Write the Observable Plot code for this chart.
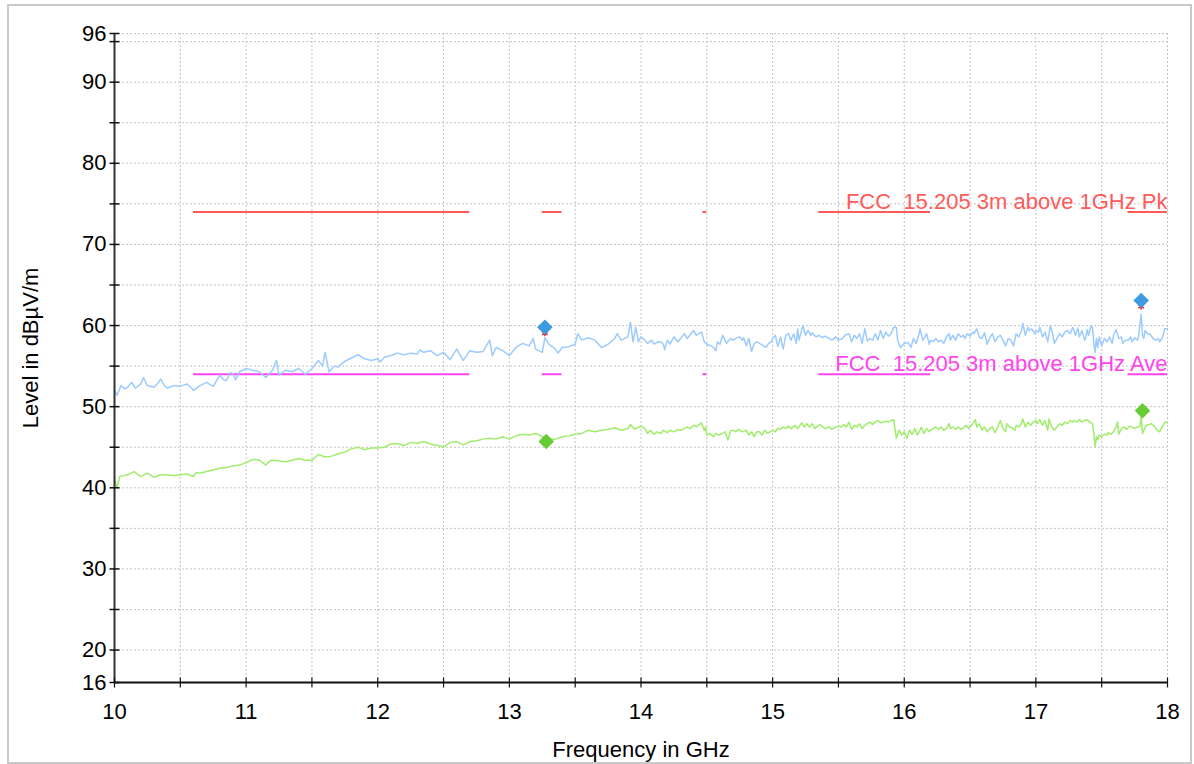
<!DOCTYPE html>
<html>
<head>
<meta charset="utf-8">
<script src="https://cdn.jsdelivr.net/npm/d3@7"></script>
<script src="https://cdn.jsdelivr.net/npm/@observablehq/plot@0.6"></script>
<style>
  html, body { margin: 0; padding: 0; background: #fff; }
  #wrap { position: relative; width: 1194px; height: 764px; overflow: hidden; }
  #frame { position: absolute; left: 7px; top: 4px; width: 1181px; height: 756px; border: 2px solid #c8c8c8; pointer-events: none; }
  #cut { position: absolute; left: 0; top: 762px; width: 1194px; height: 2px; background: #fff; }
</style>
</head>
<body>
<div id="wrap"><div id="chart"></div><div id="cut"></div><div id="frame"></div></div>
<script>
// ---- Data ----
const peakF = [10.00,10.02,10.05,10.08,10.10,10.13,10.16,10.20,10.22,10.25,10.30,10.33,10.35,10.38,10.40,10.45,10.50,10.55,10.58,10.60,10.65,10.70,10.75,10.80,10.83,10.85,10.88,10.90,10.92,10.95,11.00,11.05,11.10,11.15,11.20,11.23,11.25,11.30,11.35,11.40,11.45,11.50,11.53,11.55,11.58,11.60,11.63,11.67,11.70,11.75,11.80,11.85,11.90,11.95,12.00,
12.02,12.05,12.10,12.15,12.20,12.25,12.30,12.32,12.35,12.40,12.45,12.50,12.55,12.60,12.65,12.70,12.75,12.80,12.85,12.87,12.90,12.95,13.00,13.05,13.10,13.15,13.18,13.20,13.25,13.27,13.30,13.35,13.37,13.40,13.45,13.50,13.52,13.55,13.60,13.65,13.70,13.75,13.80,13.82,13.85,13.90,13.92,13.94,13.96,13.98,14.00,
14.03,14.05,14.08,14.10,14.13,14.15,14.17,14.18,14.20,14.22,14.25,14.28,14.30,14.33,14.35,14.38,14.40,14.42,14.44,14.46,14.48,14.50,14.53,14.55,14.57,14.58,14.60,14.62,14.65,14.68,14.70,14.73,14.75,14.77,14.78,14.80,14.82,14.84,14.86,14.88,14.90,14.93,14.95,14.97,14.99,15.00,15.02,15.04,15.06,15.08,15.10,15.12,15.14,15.16,15.18,15.19,15.20,15.22,15.23,15.25,15.27,15.29,15.30,15.33,15.35,15.38,15.40,15.43,15.45,15.48,15.50,15.53,15.55,15.58,15.60,15.62,15.64,15.66,15.68,15.70,15.72,15.74,15.76,15.78,15.80,15.82,15.84,15.86,15.88,15.90,15.92,15.94,15.95,15.97,16.00,
16.03,16.05,16.07,16.09,16.11,16.12,16.14,16.15,16.17,16.19,16.20,16.22,16.24,16.26,16.28,16.30,16.32,16.34,16.35,16.37,16.39,16.41,16.43,16.45,16.46,16.48,16.50,16.52,16.53,16.55,16.57,16.59,16.61,16.63,16.65,16.67,16.69,16.71,16.73,16.75,16.77,16.79,16.81,16.83,16.85,16.87,16.88,16.89,16.90,16.92,16.94,16.95,16.97,16.99,17.00,17.02,17.03,17.05,17.07,17.09,17.11,17.13,17.14,17.16,17.18,17.20,17.22,17.24,17.26,17.28,17.30,17.32,17.33,17.35,17.37,17.38,17.39,17.40,17.42,17.43,17.44,17.45,17.46,17.47,17.48,17.50,17.52,17.54,17.56,17.58,17.59,17.61,17.63,17.65,17.66,17.68,17.70,17.72,17.73,17.75,17.77,17.78,17.80,17.81,17.82,17.83,17.85,17.87,17.89,17.91,17.93,17.94,17.96,17.98,18.00];
const peakL = [52.0,51.4,52.6,52.2,52.4,53.0,52.3,52.8,53.6,52.6,52.4,52.9,53.4,52.6,52.3,52.6,52.5,52.8,52.4,52.0,52.6,53.0,52.5,53.9,53.3,53.2,54.2,54.1,53.3,54.3,54.7,54.5,54.3,53.6,54.5,55.7,53.9,54.5,54.3,54.7,54.0,54.7,55.3,55.7,55.0,56.7,54.3,55.0,54.9,55.6,56.0,56.4,55.9,55.7,55.9,
55.5,56.1,56.3,56.6,56.4,56.6,56.5,57.0,56.7,56.9,56.3,56.7,55.8,57.1,55.7,56.9,56.7,56.8,58.2,56.3,57.3,56.9,56.3,57.3,57.8,57.5,58.4,57.1,56.7,58.5,57.7,57.1,56.6,57.3,57.4,57.7,59.0,58.2,58.5,58.2,57.3,57.7,58.4,59.0,58.2,58.6,60.4,58.0,59.8,58.0,58.6,
58.2,57.8,58.2,57.7,58.0,58.0,57.7,57.0,58.2,57.7,58.6,58.0,58.4,59.0,58.4,59.0,59.4,58.8,59.0,59.2,58.0,57.7,57.5,57.3,56.9,58.0,57.7,58.8,57.8,58.4,58.2,58.5,58.6,58.2,58.5,57.5,58.4,56.8,57.8,58.0,57.8,57.5,57.3,57.8,58.0,58.4,58.8,57.4,58.6,57.1,58.8,59.0,58.2,59.0,57.8,59.6,58.2,59.4,60.0,58.8,59.4,58.8,59.1,58.6,58.8,58.5,58.7,58.4,58.2,58.6,58.2,58.4,58.8,59.0,58.0,58.8,58.4,59.0,57.8,59.6,58.1,58.4,58.2,59.0,58.2,59.4,58.4,59.2,58.7,59.0,59.8,59.8,58.2,57.3,57.8,
57.9,57.3,58.4,57.8,58.8,59.6,58.2,58.4,59.0,57.7,58.2,58.0,58.4,58.0,58.2,57.8,58.6,59.0,58.2,58.8,58.2,59.0,58.6,58.8,58.4,59.0,58.7,59.2,59.0,59.6,58.6,58.4,59.1,57.7,58.5,59.0,58.0,58.6,58.8,58.2,57.5,58.4,58.2,57.5,59.0,58.6,59.0,59.3,60.3,58.8,59.8,59.4,59.6,59.0,59.4,59.2,59.8,58.6,59.2,58.0,60.0,58.8,57.8,58.4,59.0,58.6,59.2,59.4,59.0,59.8,58.8,59.7,58.6,59.4,58.2,58.6,59.5,58.8,60.0,59.8,57.8,56.7,58.4,57.3,58.6,57.5,58.4,58.0,58.6,57.8,58.8,59.5,58.4,58.6,57.8,58.2,58.2,58.6,58.0,58.5,58.2,58.6,61.4,58.8,58.4,59.4,59.0,58.9,58.4,58.2,58.4,58.0,58.5,59.6,59.6];

const avgF = [10.00,10.02,10.04,10.07,10.10,10.15,10.18,10.20,10.25,10.30,10.35,10.40,10.45,10.50,10.55,10.60,10.62,10.65,10.70,10.75,10.80,10.85,10.90,10.95,11.00,11.05,11.10,11.15,11.18,11.20,11.25,11.30,11.35,11.40,11.45,11.50,11.55,11.60,11.65,11.70,11.75,11.80,11.85,11.90,11.95,12.00,
12.05,12.10,12.15,12.20,12.25,12.30,12.35,12.40,12.45,12.50,12.55,12.60,12.65,12.70,12.75,12.80,12.85,12.90,12.95,13.00,13.05,13.10,13.15,13.20,13.25,13.30,13.35,13.40,13.45,13.50,13.55,13.60,13.65,13.70,13.75,13.80,13.85,13.90,13.92,13.95,14.00,
14.03,14.05,14.07,14.10,14.12,14.15,14.17,14.20,14.22,14.25,14.28,14.30,14.33,14.35,14.37,14.40,14.42,14.44,14.46,14.48,14.49,14.50,14.52,14.55,14.57,14.59,14.62,14.64,14.66,14.68,14.70,14.72,14.74,14.77,14.80,14.82,14.84,14.86,14.88,14.90,14.92,14.94,14.96,14.98,15.00,15.02,15.04,15.06,15.08,15.10,15.12,15.14,15.17,15.19,15.20,15.22,15.24,15.26,15.28,15.30,15.32,15.34,15.36,15.38,15.40,15.43,15.45,15.48,15.50,15.52,15.54,15.56,15.58,15.60,15.62,15.64,15.66,15.68,15.70,15.72,15.74,15.76,15.78,15.80,15.82,15.84,15.86,15.88,15.90,15.92,15.94,15.96,15.98,16.00,
16.02,16.04,16.06,16.08,16.10,16.12,16.13,16.15,16.17,16.19,16.20,16.22,16.24,16.26,16.28,16.30,16.32,16.34,16.35,16.37,16.39,16.41,16.43,16.45,16.47,16.49,16.50,16.52,16.54,16.55,16.57,16.59,16.61,16.63,16.65,16.67,16.69,16.71,16.73,16.75,16.77,16.78,16.80,16.82,16.84,16.85,16.87,16.89,16.90,16.92,16.94,16.96,16.98,17.00,17.01,17.03,17.05,17.07,17.09,17.10,17.12,17.14,17.16,17.18,17.20,17.22,17.24,17.26,17.28,17.29,17.31,17.33,17.35,17.37,17.39,17.41,17.43,17.44,17.45,17.46,17.47,17.48,17.50,17.52,17.54,17.55,17.57,17.59,17.61,17.62,17.63,17.65,17.67,17.69,17.71,17.73,17.75,17.77,17.79,17.80,17.81,17.83,17.84,17.86,17.88,17.90,17.92,17.94,17.96,17.98,18.00];
const avgL = [40.9,40.1,41.4,41.5,41.6,42.0,41.6,41.4,41.8,41.3,41.6,41.6,41.5,41.6,41.7,41.4,41.9,41.8,42.0,42.2,42.4,42.5,42.7,42.8,43.1,43.5,43.4,42.8,43.3,43.4,43.3,43.2,43.4,43.6,43.4,43.4,44.1,43.8,43.9,44.2,44.4,44.8,45.0,44.7,44.9,44.9,
45.0,45.4,45.45,45.2,45.6,45.5,45.7,45.4,45.25,45.0,45.6,45.7,45.3,45.7,45.8,46.0,46.1,46.0,46.3,46.0,46.4,46.6,46.5,46.7,46.3,46.0,46.0,46.3,46.4,46.6,46.7,47.1,46.9,47.1,47.2,47.4,47.1,47.3,47.8,47.25,47.6,
47.3,46.7,47.1,46.6,46.9,46.7,47.1,46.8,47.1,46.9,47.2,47.1,47.3,47.5,47.3,47.7,47.5,47.8,48.0,47.1,47.5,46.5,46.7,46.3,46.7,46.5,46.7,46.9,45.9,47.0,47.1,46.9,47.2,46.9,47.1,46.5,46.9,46.3,46.9,46.9,46.5,47.1,46.7,46.9,47.1,46.9,47.3,47.2,47.5,47.3,47.6,47.3,47.7,47.3,47.5,48.0,47.5,47.9,47.5,47.9,47.3,47.6,47.8,47.5,47.3,47.5,47.2,47.5,47.6,47.5,47.8,47.5,48.1,47.2,47.7,47.5,47.9,47.3,47.7,47.9,48.1,47.8,48.1,48.3,48.0,48.1,48.2,48.1,48.3,48.4,46.1,47.1,46.5,46.9,
46.1,47.1,46.6,47.3,46.5,47.1,47.5,46.7,47.3,46.9,47.1,47.3,47.5,47.2,47.5,47.1,47.3,47.9,47.3,47.5,47.2,47.5,47.2,47.4,47.7,47.3,47.5,47.9,48.4,47.5,47.9,47.1,47.5,46.9,47.3,47.5,46.8,47.5,48.3,47.3,46.9,47.9,47.5,47.4,47.1,47.7,47.5,47.9,48.5,47.5,48.1,47.7,48.1,48.3,47.9,48.4,47.7,48.3,47.1,48.5,47.5,47.1,47.5,47.9,47.7,48.1,47.9,48.3,48.1,48.3,48.1,48.4,48.1,48.3,48.4,48.1,47.9,46.7,45.1,46.3,45.9,46.5,46.3,46.6,46.5,46.8,46.6,46.9,47.5,48.1,46.6,47.3,47.5,47.2,47.6,47.5,47.3,47.5,47.6,48.7,46.7,47.5,47.7,47.8,47.9,47.6,47.1,46.9,47.5,48.1,48.0];

// Final measurement markers
const peakMarkF = [13.27, 17.80];
const peakMarkL = [59.8, 63.1];
const avgMarkF  = [13.28, 17.81];
const avgMarkL  = [45.7, 49.5];

// Limit lines (restricted bands, FCC 15.205)
const bandStart = [10.6, 13.25, 14.47, 15.35, 17.7];
const bandEnd   = [12.7, 13.4, 14.5, 16.2, 18.0];
const limitPk = 74;
const limitAve = 54;
const limitPkLabel = "FCC  15.205 3m above 1GHz Pk";
const limitAveLabel = "FCC  15.205 3m above 1GHz Ave";

// Axes
const yTickValues = [16,20,25,30,35,40,45,50,55,60,65,70,75,80,85,90,95,96];
const yTickLabels = [16,20,30,40,50,60,70,80,90,96];
const yGridValues = [20,25,30,35,40,45,50,55,60,65,70,75,80,85,90,95,96];
const xTickValues = [10,10.5,11,11.5,12,12.5,13,13.5,14,14.5,15,15.5,16,16.5,17,17.5,18];
const xTickLabels = [10,11,12,13,14,15,16,17,18];
const xGridValues = [10.5,11,11.5,12,12.5,13,13.5,14,14.5,15,15.5,16,16.5,17,17.5,18];
const xTitle = "Frequency in GHz";
const yTitle = "Level in dBµV/m";

// ---- Build tables ----
const peak = peakF.map((f, i) => ({f, v: peakL[i]}));
const avg = avgF.map((f, i) => ({f, v: avgL[i]}));
const bands = bandStart.map((s, i) => ({s, e: bandEnd[i]}));
const peakMarks = peakMarkF.map((f, i) => ({f, v: peakMarkL[i]}));
const avgMarks = avgMarkF.map((f, i) => ({f, v: avgMarkL[i]}));

const hTick = {draw(ctx, size) { const r = Math.sqrt(size / Math.PI); ctx.moveTo(-r, 0); ctx.lineTo(r, 0); }};
const vTick = {draw(ctx, size) { const r = Math.sqrt(size / Math.PI); ctx.moveTo(0, -r); ctx.lineTo(0, r); }};

const FONT = "'Liberation Sans', Arial, sans-serif";
const FS = 22;
const gridStyle = {stroke: "#c4c4c4", strokeWidth: 1, strokeDasharray: "2,2", strokeOpacity: 1};

const chart = Plot.plot({
  width: 1194,
  height: 764,
  marginLeft: 114,
  marginRight: 27,
  marginTop: 33,
  marginBottom: 82,
  style: {fontFamily: FONT, fontSize: FS + "px", background: "transparent", color: "#000"},
  x: {domain: [10, 18]},
  y: {domain: [16, 96]},
  marks: [
    Plot.ruleY(yGridValues, {...gridStyle}),
    Plot.ruleX(xGridValues, {...gridStyle}),
    Plot.ruleY(bands, {y: () => limitPk, x1: "s", x2: "e", stroke: "#ff5a5a", strokeWidth: 2}),
    Plot.ruleY(bands, {y: () => limitAve, x1: "s", x2: "e", stroke: "#ff44ee", strokeWidth: 2}),
    Plot.text([limitPkLabel], {x: () => 18, y: () => limitPk, text: d => d, textAnchor: "end", lineAnchor: "bottom", dy: -3, fill: "#ff5a5a", fontSize: FS}),
    Plot.text([limitAveLabel], {x: () => 18, y: () => limitAve, text: d => d, textAnchor: "end", lineAnchor: "bottom", dy: -3, fill: "#ff44ee", fontSize: FS}),
    Plot.line(peak, {x: "f", y: "v", stroke: "#9ccbff", strokeWidth: 1.5}),
    Plot.line(avg, {x: "f", y: "v", stroke: "#a0ec6c", strokeWidth: 1.5}),
    Plot.dot(peakMarks, {x: "f", y: "v", symbol: "asterisk", r: 3, stroke: "#ee2222", strokeWidth: 1.5, dy: 6}),
    Plot.dot(peakMarks, {x: "f", y: "v", symbol: "diamond2", r: 7, fill: "#3d9be0", stroke: "none"}),
    Plot.dot(avgMarks, {x: "f", y: "v", symbol: "diamond2", r: 7, fill: "#66cc33", stroke: "none"}),
    // axis lines
    Plot.ruleX([10], {stroke: "#333", strokeWidth: 2}),
    Plot.ruleY([16], {stroke: "#111", strokeWidth: 2}),
    // tick marks crossing the axes
    Plot.dot(yTickValues, {x: () => 10, y: d => d, symbol: hTick, r: 5, stroke: "#111", strokeWidth: 1.5, fill: "none"}),
    Plot.dot(xTickValues, {x: d => d, y: () => 16, symbol: vTick, r: 5, stroke: "#111", strokeWidth: 1.2, fill: "none"}),
    // tick labels
    Plot.axisY({ticks: yTickLabels, tickSize: 0, tickPadding: 8, label: null, fontSize: FS}),
    Plot.axisX({ticks: xTickLabels, tickSize: 0, tickPadding: 21, label: null, fontSize: FS}),
    // titles
    Plot.text([xTitle], {frameAnchor: "bottom", text: d => d, dy: 74, fontSize: FS}),
    Plot.text([yTitle], {frameAnchor: "left", text: d => d, textAnchor: "middle", dx: -84, dy: -10, rotate: -90, fontSize: FS})
  ]
});
document.getElementById("chart").appendChild(chart);
</script>
</body>
</html>
